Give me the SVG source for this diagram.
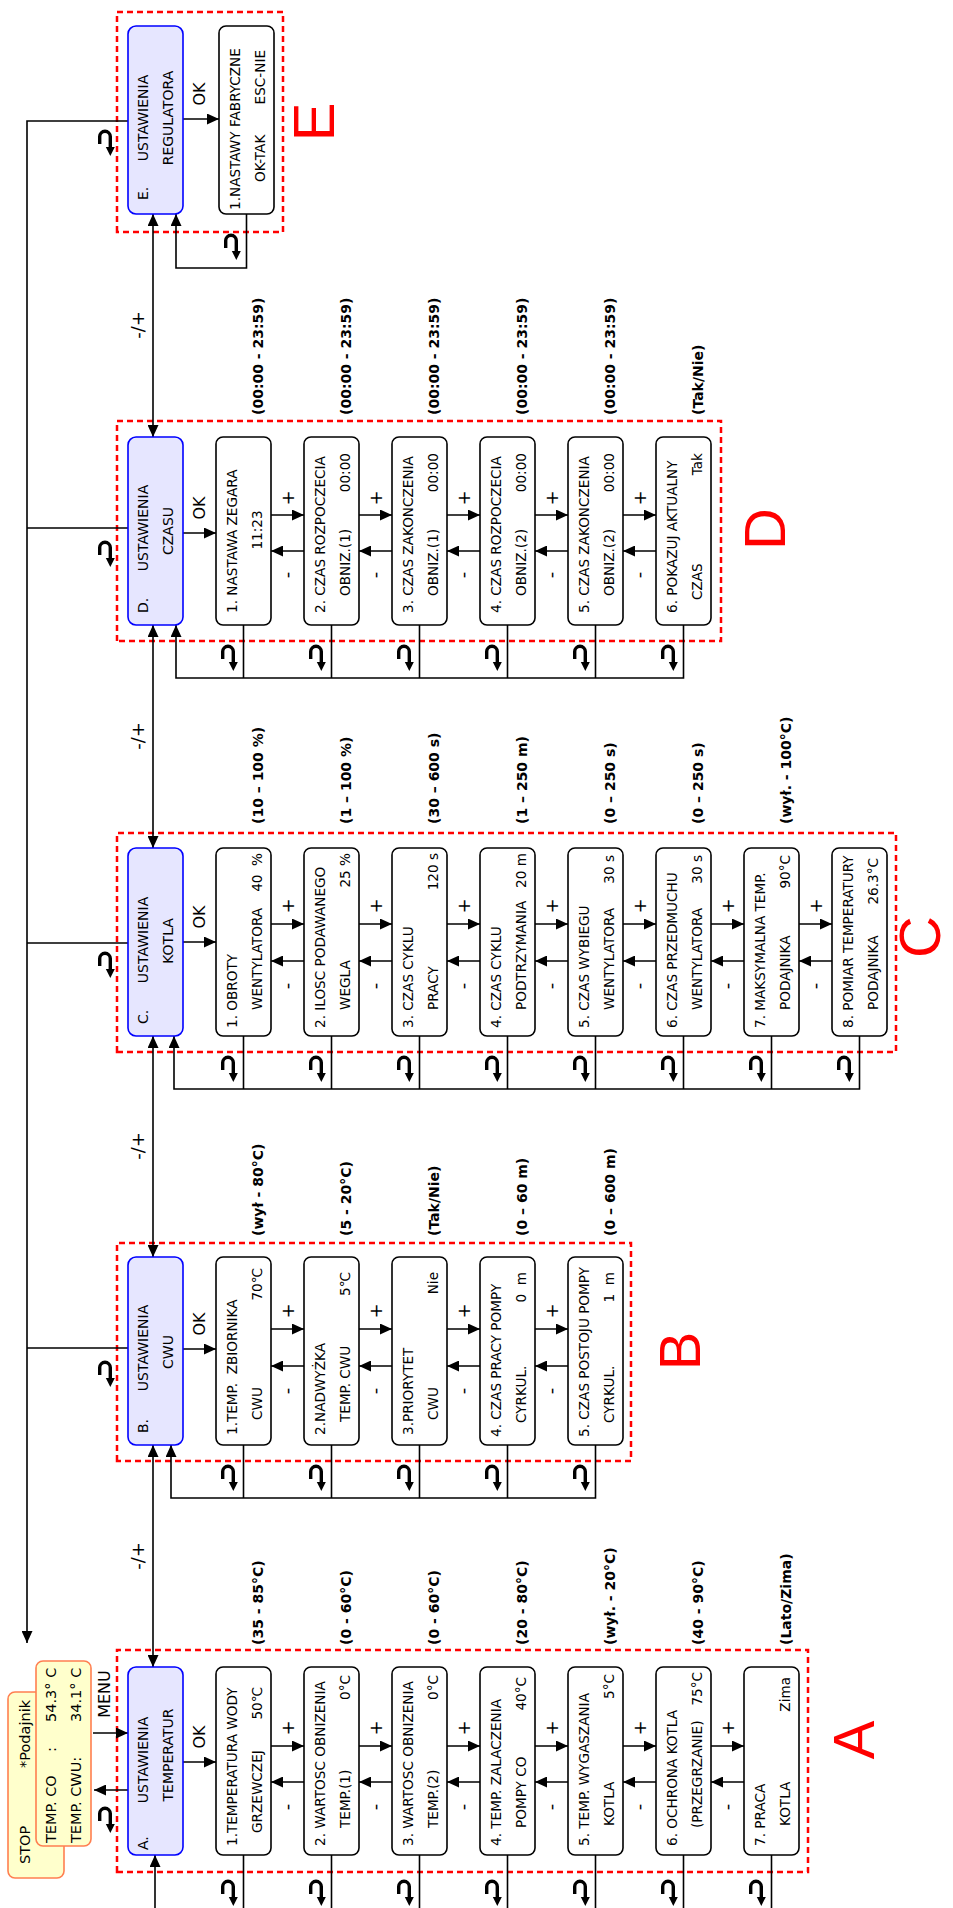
<svg xmlns="http://www.w3.org/2000/svg" width="953" height="1908" viewBox="0 0 953 1908">
<defs>
<style>
.item{fill:#fff;stroke:#000;stroke-width:1.6}
.hdr{fill:#E6E6FF;stroke:#0000FF;stroke-width:1.6}
.stat{fill:#FFFFCC;stroke:#FF7F50;stroke-width:1.6}
.sec{fill:none;stroke:#FF0000;stroke-width:2.5;stroke-dasharray:6 4}
text{font-family:"DejaVu Sans",Verdana,sans-serif;fill:#000}
.t{font-size:13.6px}
.h{font-size:14px}
.s{font-size:14.5px}
.r{font-size:14px;font-weight:bold}
.big{font-family:"Liberation Sans",Arial,sans-serif;font-size:58px;fill:#FF0000;text-anchor:middle}
.lbl{font-size:16px;text-anchor:middle}
.pm{font-size:18px;text-anchor:middle}
.e{text-anchor:end}
.m{text-anchor:middle}
.ln{fill:none;stroke:#000;stroke-width:1.6}
.a{marker-end:url(#ah)}
.aa{marker-start:url(#ah);marker-end:url(#ah)}
</style>
<marker id="ah" viewBox="0 0 12 11" refX="12" refY="5.5" markerWidth="12" markerHeight="11" markerUnits="userSpaceOnUse" orient="auto-start-reverse"><path d="M0,0L12,5.5L0,11z" fill="#000"/></marker>
<symbol id="ret" viewBox="0 0 27 19" width="27" height="19" overflow="visible"><path d="M12,2.7H19.4A5.3,5.3 0 0 1 19.4,13.3H8" fill="none" stroke="#000" stroke-width="3.4"/><path d="M0,13.3L9,8.8L9,17.8z" fill="#000"/></symbol>
</defs>
<rect width="953" height="1908" fill="#fff"/>
<g transform="translate(0,1908) rotate(-90)">

<g id="frames">
<rect class="sec" x="36" y="117" width="222" height="691"/>
<rect class="sec" x="447" y="117" width="218" height="514"/>
<rect class="sec" x="856" y="117" width="219" height="779"/>
<rect class="sec" x="1267" y="117" width="220" height="604"/>
<rect class="sec" x="1676" y="117" width="220" height="166"/>
<text class="big" x="168" y="874">A</text>
<text class="big" x="557" y="700">B</text>
<text class="big" x="971" y="940">C</text>
<text class="big" x="1379" y="785">D</text>
<text class="big" x="1786" y="334">E</text>
</g>

<g id="status">
<rect class="stat" x="30" y="8" width="186" height="56" rx="7"/>
<text class="s" x="44" y="30">STOP</text>
<text class="s" x="140" y="30">*Podajnik</text>
<rect class="stat" x="62" y="36" width="185" height="55" rx="7"/>
<text class="s" x="65" y="56">TEMP. CO</text><text class="s" x="156" y="56">:</text><text class="s" x="186" y="56">54.3° C</text>
<text class="s" x="65" y="81">TEMP. CWU:</text><text class="s" x="186" y="81">34.1° C</text>
</g>

<g id="connectors">
<path class="ln a" d="M1787,128V27H265"/>
<path class="ln" d="M560,128V27M965,128V27M1380,128V27"/>
<path class="ln a" d="M175,93V128"/>
<path class="ln a" d="M118,128V94"/>
<path class="ln a" d="M0,155H53"/>
<path class="ln aa" d="M241,153H463"/>
<path class="ln aa" d="M651,153H872"/>
<path class="ln aa" d="M1060,153H1283"/>
<path class="ln aa" d="M1471,153H1694"/>
<text class="lbl" x="214" y="110">MENU</text>
<text class="pm" x="352" y="144">-/+</text>
<text class="pm" x="762" y="144">-/+</text>
<text class="pm" x="1172" y="144">-/+</text>
<text class="pm" x="1583" y="144">-/+</text>
<path class="ln a" d="M146,183V216"/><text class="lbl" x="171" y="205">OK</text>
<path class="ln a" d="M559,183V216"/><text class="lbl" x="584" y="205">OK</text>
<path class="ln a" d="M966,183V216"/><text class="lbl" x="991" y="205">OK</text>
<path class="ln a" d="M1375,183V216"/><text class="lbl" x="1400" y="205">OK</text>
<path class="ln a" d="M1789,183V219"/><text class="lbl" x="1814" y="205">OK</text>
<!-- A plus/minus -->
<path class="ln a" d="M162,271V304"/><path class="ln a" d="M162,359V392"/><path class="ln a" d="M162,447V480"/><path class="ln a" d="M162,535V568"/><path class="ln a" d="M162,623V656"/><path class="ln a" d="M162,711V744"/>
<path class="ln a" d="M126,304V271"/><path class="ln a" d="M126,392V359"/><path class="ln a" d="M126,480V447"/><path class="ln a" d="M126,568V535"/><path class="ln a" d="M126,656V623"/><path class="ln a" d="M126,744V711"/>
<text class="pm" x="180" y="293.5">+</text><text class="pm" x="180" y="381.5">+</text><text class="pm" x="180" y="469.5">+</text><text class="pm" x="180" y="557.5">+</text><text class="pm" x="180" y="645.5">+</text><text class="pm" x="180" y="733.5">+</text>
<text class="pm" x="101" y="293">-</text><text class="pm" x="101" y="381">-</text><text class="pm" x="101" y="469">-</text><text class="pm" x="101" y="557">-</text><text class="pm" x="101" y="645">-</text><text class="pm" x="101" y="733">-</text>
<!-- B plus/minus -->
<path class="ln a" d="M579,271V304"/><path class="ln a" d="M579,359V392"/><path class="ln a" d="M579,447V480"/><path class="ln a" d="M579,535V568"/>
<path class="ln a" d="M542,304V271"/><path class="ln a" d="M542,392V359"/><path class="ln a" d="M542,480V447"/><path class="ln a" d="M542,568V535"/>
<text class="pm" x="597" y="293.5">+</text><text class="pm" x="597" y="381.5">+</text><text class="pm" x="597" y="469.5">+</text><text class="pm" x="597" y="557.5">+</text>
<text class="pm" x="517" y="293">-</text><text class="pm" x="517" y="381">-</text><text class="pm" x="517" y="469">-</text><text class="pm" x="517" y="557">-</text>
<!-- C plus/minus -->
<path class="ln a" d="M984,271V304"/><path class="ln a" d="M984,359V392"/><path class="ln a" d="M984,447V480"/><path class="ln a" d="M984,535V568"/><path class="ln a" d="M984,623V656"/><path class="ln a" d="M984,711V744"/><path class="ln a" d="M984,799V832"/>
<path class="ln a" d="M947,304V271"/><path class="ln a" d="M947,392V359"/><path class="ln a" d="M947,480V447"/><path class="ln a" d="M947,568V535"/><path class="ln a" d="M947,656V623"/><path class="ln a" d="M947,744V711"/><path class="ln a" d="M947,832V799"/>
<text class="pm" x="1002" y="293.5">+</text><text class="pm" x="1002" y="381.5">+</text><text class="pm" x="1002" y="469.5">+</text><text class="pm" x="1002" y="557.5">+</text><text class="pm" x="1002" y="645.5">+</text><text class="pm" x="1002" y="733.5">+</text><text class="pm" x="1002" y="821.5">+</text>
<text class="pm" x="922" y="293">-</text><text class="pm" x="922" y="381">-</text><text class="pm" x="922" y="469">-</text><text class="pm" x="922" y="557">-</text><text class="pm" x="922" y="645">-</text><text class="pm" x="922" y="733">-</text><text class="pm" x="922" y="821">-</text>
<!-- D plus/minus -->
<path class="ln a" d="M1393,271V304"/><path class="ln a" d="M1393,359V392"/><path class="ln a" d="M1393,447V480"/><path class="ln a" d="M1393,535V568"/><path class="ln a" d="M1393,623V656"/>
<path class="ln a" d="M1357,304V271"/><path class="ln a" d="M1357,392V359"/><path class="ln a" d="M1357,480V447"/><path class="ln a" d="M1357,568V535"/><path class="ln a" d="M1357,656V623"/>
<text class="pm" x="1410" y="293.5">+</text><text class="pm" x="1410" y="381.5">+</text><text class="pm" x="1410" y="469.5">+</text><text class="pm" x="1410" y="557.5">+</text><text class="pm" x="1410" y="645.5">+</text>
<text class="pm" x="1333" y="293">-</text><text class="pm" x="1333" y="381">-</text><text class="pm" x="1333" y="469">-</text><text class="pm" x="1333" y="557">-</text><text class="pm" x="1333" y="645">-</text>
<!-- return lines -->
<path class="ln" d="M53,243.5H0M53,331.5H0M53,419.5H0M53,507.5H0M53,595.5H0M53,683.5H0M53,771.5H0"/>
<path class="ln" d="M463,243.5H410M463,331.5H410M463,419.5H410M463,507.5H410"/>
<path class="ln a" d="M463,595.5H410V171H463"/>
<path class="ln" d="M872,243.5H819M872,331.5H819M872,419.5H819M872,507.5H819M872,595.5H819M872,683.5H819M872,771.5H819"/>
<path class="ln a" d="M872,859.5H819V174H872"/>
<path class="ln" d="M1283,243.5H1230M1283,331.5H1230M1283,419.5H1230M1283,507.5H1230M1283,595.5H1230"/>
<path class="ln a" d="M1283,683.5H1230V176H1283"/>
<path class="ln a" d="M1694,246.5H1640V176H1694"/>
<!-- return icons -->
<use href="#ret" x="75" y="97"/><use href="#ret" x="521" y="97"/><use href="#ret" x="930" y="97"/><use href="#ret" x="1341" y="97"/><use href="#ret" x="1752" y="97"/>
<use href="#ret" x="2" y="220"/><use href="#ret" x="2" y="308"/><use href="#ret" x="2" y="396"/><use href="#ret" x="2" y="484"/><use href="#ret" x="2" y="572"/><use href="#ret" x="2" y="660"/><use href="#ret" x="2" y="748"/>
<use href="#ret" x="417" y="220"/><use href="#ret" x="417" y="308"/><use href="#ret" x="417" y="396"/><use href="#ret" x="417" y="484"/><use href="#ret" x="417" y="572"/>
<use href="#ret" x="826" y="220"/><use href="#ret" x="826" y="308"/><use href="#ret" x="826" y="396"/><use href="#ret" x="826" y="484"/><use href="#ret" x="826" y="572"/><use href="#ret" x="826" y="660"/><use href="#ret" x="826" y="748"/><use href="#ret" x="826" y="836"/>
<use href="#ret" x="1237" y="220"/><use href="#ret" x="1237" y="308"/><use href="#ret" x="1237" y="396"/><use href="#ret" x="1237" y="484"/><use href="#ret" x="1237" y="572"/><use href="#ret" x="1237" y="660"/>
<use href="#ret" x="1648" y="223"/>
</g>

<g id="A-hdr"><rect class="hdr" x="53" y="128" width="188" height="55" rx="8"/>
<text class="h" x="58" y="148">A.</text><text class="h m" x="148" y="148">USTAWIENIA</text><text class="h m" x="153" y="173">TEMPERATUR</text></g>
<g id="A1"><rect class="item" x="53" y="216" width="188" height="55" rx="7"/>
<text class="t" x="62" y="237">1.TEMPERATURA WODY</text><text class="t" x="75" y="262">GRZEWCZEJ</text><text class="t e" x="221" y="262">50℃</text><text class="r" x="263" y="263">(35 - 85°C)</text></g>
<g id="A2"><rect class="item" x="53" y="304" width="188" height="55" rx="7"/>
<text class="t" x="62" y="325">2. WARTOSC OBNIZENIA</text><text class="t" x="80" y="350">TEMP.(1)</text><text class="t e" x="233" y="350">0°C</text><text class="r" x="263" y="351">(0 - 60°C)</text></g>
<g id="A3"><rect class="item" x="53" y="392" width="188" height="55" rx="7"/>
<text class="t" x="62" y="413">3. WARTOSC OBNIZENIA</text><text class="t" x="80" y="438">TEMP.(2)</text><text class="t e" x="233" y="438">0°C</text><text class="r" x="263" y="439">(0 - 60°C)</text></g>
<g id="A4"><rect class="item" x="53" y="480" width="188" height="55" rx="7"/>
<text class="t" x="62" y="501">4. TEMP. ZALACZENIA</text><text class="t" x="80" y="526">POMPY CO</text><text class="t e" x="231" y="526">40°C</text><text class="r" x="263" y="527">(20 - 80°C)</text></g>
<g id="A5"><rect class="item" x="53" y="568" width="188" height="55" rx="7"/>
<text class="t" x="62" y="589">5. TEMP. WYGASZANIA</text><text class="t" x="82" y="614">KOTLA</text><text class="t e" x="234" y="614">5°C</text><text class="r" x="263" y="615">(wył. - 20°C)</text></g>
<g id="A6"><rect class="item" x="53" y="656" width="188" height="55" rx="7"/>
<text class="t" x="62" y="677">6. OCHRONA KOTLA</text><text class="t" x="80" y="702">(PRZEGRZANIE)</text><text class="t e" x="236" y="702">75°C</text><text class="r" x="263" y="703">(40 - 90°C)</text></g>
<g id="A7"><rect class="item" x="53" y="744" width="188" height="55" rx="7"/>
<text class="t" x="62" y="765">7. PRACA</text><text class="t" x="82" y="790">KOTLA</text><text class="t e" x="231" y="790">Zima</text><text class="r" x="263" y="791">(Lato/Zima)</text></g>

<g id="B-hdr"><rect class="hdr" x="463" y="128" width="188" height="55" rx="8"/>
<text class="h" x="475" y="148">B.</text><text class="h m" x="560" y="148">USTAWIENIA</text><text class="h m" x="556" y="173">CWU</text></g>
<g id="B1"><rect class="item" x="463" y="216" width="188" height="55" rx="7"/>
<text class="t" x="473" y="237" xml:space="preserve">1.TEMP.  ZBIORNIKA</text><text class="t" x="488" y="262">CWU</text><text class="t e" x="640" y="262">70℃</text><text class="r" x="672" y="263">(wył - 80°C)</text></g>
<g id="B2"><rect class="item" x="463" y="304" width="188" height="55" rx="7"/>
<text class="t" x="473" y="325">2.NADWYŻKA</text><text class="t" x="486" y="350">TEMP. CWU</text><text class="t e" x="636" y="350">5℃</text><text class="r" x="672" y="351">(5 - 20°C)</text></g>
<g id="B3"><rect class="item" x="463" y="392" width="188" height="55" rx="7"/>
<text class="t" x="473" y="413">3.PRIORYTET</text><text class="t" x="488" y="438">CWU</text><text class="t e" x="636" y="438">Nie</text><text class="r" x="672" y="439">(Tak/Nie)</text></g>
<g id="B4"><rect class="item" x="463" y="480" width="188" height="55" rx="7"/>
<text class="t" x="471" y="501">4. CZAS PRACY POMPY</text><text class="t" x="485" y="526">CYRKUL.</text><text class="t e" x="636" y="526" xml:space="preserve">0  m</text><text class="r" x="672" y="527">(0 – 60 m)</text></g>
<g id="B5"><rect class="item" x="463" y="568" width="188" height="55" rx="7"/>
<text class="t" x="471" y="589">5. CZAS POSTOJU POMPY</text><text class="t" x="485" y="614">CYRKUL.</text><text class="t e" x="636" y="614" xml:space="preserve">1  m</text><text class="r" x="672" y="615">(0 – 600 m)</text></g>

<g id="C-hdr"><rect class="hdr" x="872" y="128" width="188" height="55" rx="8"/>
<text class="h" x="884" y="148">C.</text><text class="h m" x="968" y="148">USTAWIENIA</text><text class="h m" x="967" y="173">KOTLA</text></g>
<g id="C1"><rect class="item" x="872" y="216" width="188" height="55" rx="7"/>
<text class="t" x="880" y="237">1. OBROTY</text><text class="t" x="898" y="262">WENTYLATORA</text><text class="t e" x="1055" y="262" xml:space="preserve">40  %</text><text class="r" x="1084" y="263">(10 – 100 %)</text></g>
<g id="C2"><rect class="item" x="872" y="304" width="188" height="55" rx="7"/>
<text class="t" x="880" y="325">2. ILOSC PODAWANEGO</text><text class="t" x="898" y="350">WEGLA</text><text class="t e" x="1055" y="350">25 %</text><text class="r" x="1084" y="351">(1 – 100 %)</text></g>
<g id="C3"><rect class="item" x="872" y="392" width="188" height="55" rx="7"/>
<text class="t" x="880" y="413">3. CZAS CYKLU</text><text class="t" x="898" y="438">PRACY</text><text class="t e" x="1055" y="438">120 s</text><text class="r" x="1084" y="439">(30 – 600 s)</text></g>
<g id="C4"><rect class="item" x="872" y="480" width="188" height="55" rx="7"/>
<text class="t" x="880" y="501">4. CZAS CYKLU</text><text class="t" x="898" y="526">PODTRZYMANIA</text><text class="t e" x="1055" y="526">20 m</text><text class="r" x="1084" y="527">(1 – 250 m)</text></g>
<g id="C5"><rect class="item" x="872" y="568" width="188" height="55" rx="7"/>
<text class="t" x="880" y="589">5. CZAS WYBIEGU</text><text class="t" x="898" y="614">WENTYLATORA</text><text class="t e" x="1053" y="614">30 s</text><text class="r" x="1084" y="615">(0 – 250 s)</text></g>
<g id="C6"><rect class="item" x="872" y="656" width="188" height="55" rx="7"/>
<text class="t" x="880" y="677">6. CZAS PRZEDMUCHU</text><text class="t" x="898" y="702">WENTYLATORA</text><text class="t e" x="1053" y="702">30 s</text><text class="r" x="1084" y="703">(0 – 250 s)</text></g>
<g id="C7"><rect class="item" x="872" y="744" width="188" height="55" rx="7"/>
<text class="t" x="880" y="765">7. MAKSYMALNA TEMP.</text><text class="t" x="898" y="790">PODAJNIKA</text><text class="t e" x="1053" y="790">90°C</text><text class="r" x="1084" y="791">(wył. - 100°C)</text></g>
<g id="C8"><rect class="item" x="872" y="832" width="188" height="55" rx="7"/>
<text class="t" x="880" y="853">8. POMIAR TEMPERATURY</text><text class="t" x="898" y="878">PODAJNIKA</text><text class="t e" x="1050" y="878">26.3°C</text></g>

<g id="D-hdr"><rect class="hdr" x="1283" y="128" width="188" height="55" rx="8"/>
<text class="h" x="1295" y="148">D.</text><text class="h m" x="1380" y="148">USTAWIENIA</text><text class="h m" x="1377" y="173">CZASU</text></g>
<g id="D1"><rect class="item" x="1283" y="216" width="188" height="55" rx="7"/>
<text class="t" x="1295" y="237">1. NASTAWA ZEGARA</text><text class="t m" x="1378" y="262">11:23</text><text class="r" x="1493" y="263">(00:00 - 23:59)</text></g>
<g id="D2"><rect class="item" x="1283" y="304" width="188" height="55" rx="7"/>
<text class="t" x="1295" y="325">2. CZAS ROZPOCZECIA</text><text class="t" x="1312" y="350">OBNIZ.(1)</text><text class="t e" x="1455" y="350">00:00</text><text class="r" x="1493" y="351">(00:00 - 23:59)</text></g>
<g id="D3"><rect class="item" x="1283" y="392" width="188" height="55" rx="7"/>
<text class="t" x="1295" y="413">3. CZAS ZAKONCZENIA</text><text class="t" x="1312" y="438">OBNIZ.(1)</text><text class="t e" x="1455" y="438">00:00</text><text class="r" x="1493" y="439">(00:00 - 23:59)</text></g>
<g id="D4"><rect class="item" x="1283" y="480" width="188" height="55" rx="7"/>
<text class="t" x="1295" y="501">4. CZAS ROZPOCZECIA</text><text class="t" x="1312" y="526">OBNIZ.(2)</text><text class="t e" x="1455" y="526">00:00</text><text class="r" x="1493" y="527">(00:00 - 23:59)</text></g>
<g id="D5"><rect class="item" x="1283" y="568" width="188" height="55" rx="7"/>
<text class="t" x="1295" y="589">5. CZAS ZAKONCZENIA</text><text class="t" x="1312" y="614">OBNIZ.(2)</text><text class="t e" x="1455" y="614">00:00</text><text class="r" x="1493" y="615">(00:00 - 23:59)</text></g>
<g id="D6"><rect class="item" x="1283" y="656" width="188" height="55" rx="7"/>
<text class="t" x="1295" y="677">6. POKAZUJ AKTUALNY</text><text class="t" x="1308" y="702">CZAS</text><text class="t e" x="1455" y="702">Tak</text><text class="r" x="1493" y="703">(Tak/Nie)</text></g>

<g id="E-hdr"><rect class="hdr" x="1694" y="128" width="188" height="55" rx="8"/>
<text class="h" x="1708" y="148">E.</text><text class="h m" x="1790" y="148">USTAWIENIA</text><text class="h m" x="1790" y="173">REGULATORA</text></g>
<g id="E1"><rect class="item" x="1694" y="219" width="188" height="55" rx="7"/>
<text class="t" x="1698" y="240">1.NASTAWY FABRYCZNE</text><text class="t" x="1726" y="265">OK-TAK</text><text class="t e" x="1858" y="265">ESC-NIE</text></g>

</g>
</svg>
